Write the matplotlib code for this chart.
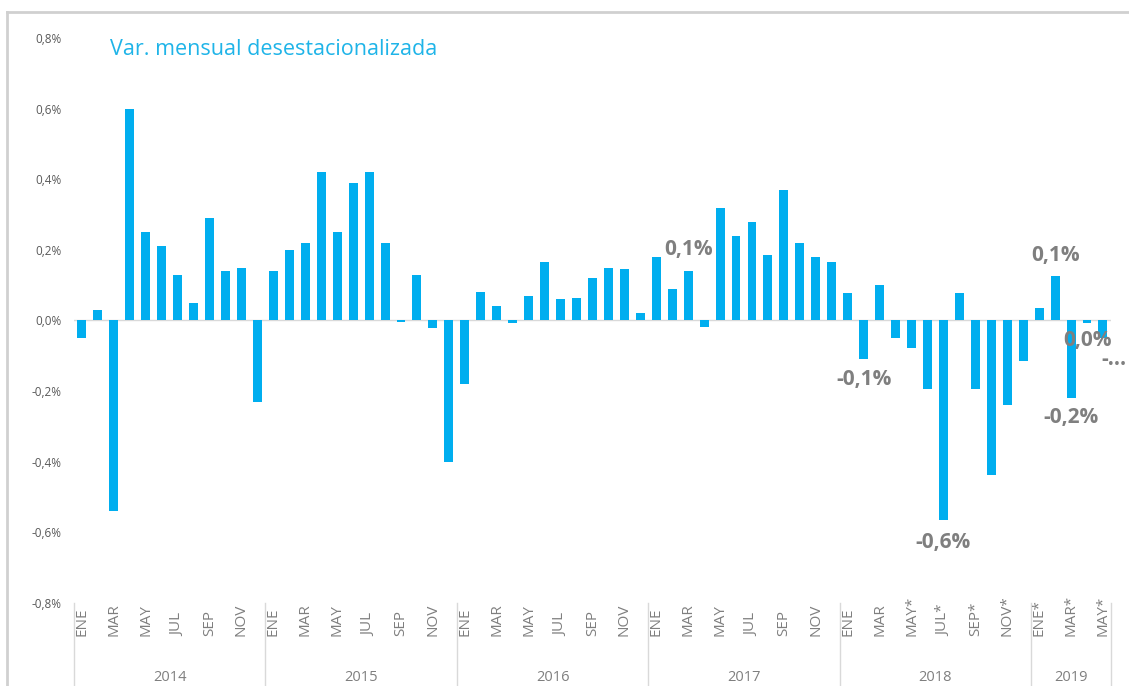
import matplotlib
matplotlib.use("Agg")
import matplotlib.pyplot as plt
from matplotlib.lines import Line2D
from matplotlib.transforms import blended_transform_factory

plt.rcParams["font.family"] = ["Open Sans", "DejaVu Sans"]

# Data: monthly seasonally adjusted variation (%), Jan 2014 - May 2019
years = ["2014", "2015", "2016", "2017", "2018", "2019"]
months = ["ENE", "FEB", "MAR", "ABR", "MAY", "JUN", "JUL", "AGO", "SEP", "OCT", "NOV", "DIC"]
values = [
    -0.05, 0.03, -0.54, 0.60, 0.25, 0.21, 0.13, 0.05, 0.29, 0.14, 0.15, -0.23,   # 2014
    0.14, 0.20, 0.22, 0.42, 0.25, 0.39, 0.42, 0.22, -0.005, 0.13, -0.02, -0.40,  # 2015
    -0.18, 0.08, 0.04, -0.008, 0.07, 0.165, 0.06, 0.065, 0.12, 0.15, 0.145, 0.02,  # 2016
    0.18, 0.09, 0.14, -0.018, 0.32, 0.24, 0.28, 0.185, 0.37, 0.22, 0.18, 0.167,  # 2017
    0.077, -0.11, 0.10, -0.05, -0.077, -0.195, -0.565, 0.078, -0.193, -0.437, -0.24, -0.114,  # 2018
    0.036, 0.126, -0.22, -0.008, -0.05,  # 2019
]
# months flagged as provisional (*)
provisional_from = 52  # MAY 2018

# labelled bars and where their label sits (y in %)
label_idx = [38, 49, 54, 61, 62, 63]
label_y = {38: 0.20, 49: -0.167, 54: -0.63, 61: 0.185, 62: -0.275, 63: -0.057}

bar_color = "#00AEEF"
grey = "#7F7F7F"

fig = plt.figure(figsize=(11.29, 6.86), dpi=100)
ax = fig.add_axes([0.0655, 0.121, 0.9185, 0.8236])

n = len(values)
x = list(range(n))
ax.bar(x, values, width=0.56, color=bar_color, zorder=2)
ax.axhline(0, color="#D9D9D9", lw=1, zorder=1)

ax.set_xlim(-0.5, n - 0.5)
ax.set_ylim(-0.8, 0.8)
yt = [-0.8, -0.6, -0.4, -0.2, 0.0, 0.2, 0.4, 0.6, 0.8]
ax.set_yticks(yt)
ax.set_yticklabels([f"{v:.1f}%".replace(".", ",") for v in yt], fontsize=8.5, color="#595959")
ax.tick_params(axis="y", length=0, pad=9)
ax.set_xticks([])
for s in ax.spines.values():
    s.set_visible(False)

# month labels (every other month) and year labels
for i in range(0, n, 2):
    lab = months[i % 12]
    if i >= provisional_from:
        lab += "*"
    ax.annotate(lab, xy=(i, 0), xycoords=("data", "figure fraction"),
                xytext=(0, 36), textcoords="offset points",
                rotation=90, ha="center", va="bottom", fontsize=11, color=grey)

for k, yr in enumerate(years):
    start = k * 12 - 0.5
    end = min(k * 12 + 11.5, n - 0.5)
    ax.annotate(yr, xy=((start + end) / 2, 0), xycoords=("data", "figure fraction"),
                xytext=(0, 1), textcoords="offset points",
                ha="center", va="bottom", fontsize=10.5, color=grey)
sep_tr = blended_transform_factory(ax.transData, fig.transFigure)
for k in range(len(years) + 1):
    b = min(k * 12 - 0.5, n - 0.5)
    ax.add_line(Line2D([b, b], [0, 0.121], transform=sep_tr,
                       color="#D9D9D9", lw=1, clip_on=False))

# data labels
for i in label_idx:
    v = round(values[i], 1)
    txt = f"{v:.1f}%".replace(".", ",")
    if txt == "-0,0%":
        txt = "0,0%"
    ax.text(i, label_y[i], txt, ha="center", va="center", fontsize=15,
            fontweight="bold", color=grey, zorder=3)
ax.text(64 - 0.1, -0.11, "-...", ha="left", va="center", fontsize=15,
        fontweight="bold", color=grey, zorder=3, clip_on=False)

# title
fig.text(0.097, 0.928, "Var. mensual desestacionalizada", fontsize=15.5,
         color="#1FB4E8", ha="left", va="center")

# chart frame
fig.add_artist(Line2D([0.0065, 1.0], [0.9825, 0.9825], transform=fig.transFigure, color="#D0D0D0", lw=2))
fig.add_artist(Line2D([0.0065, 0.0065], [0.0, 0.9825], transform=fig.transFigure, color="#D0D0D0", lw=2))

fig.savefig("out.png", dpi=100)
